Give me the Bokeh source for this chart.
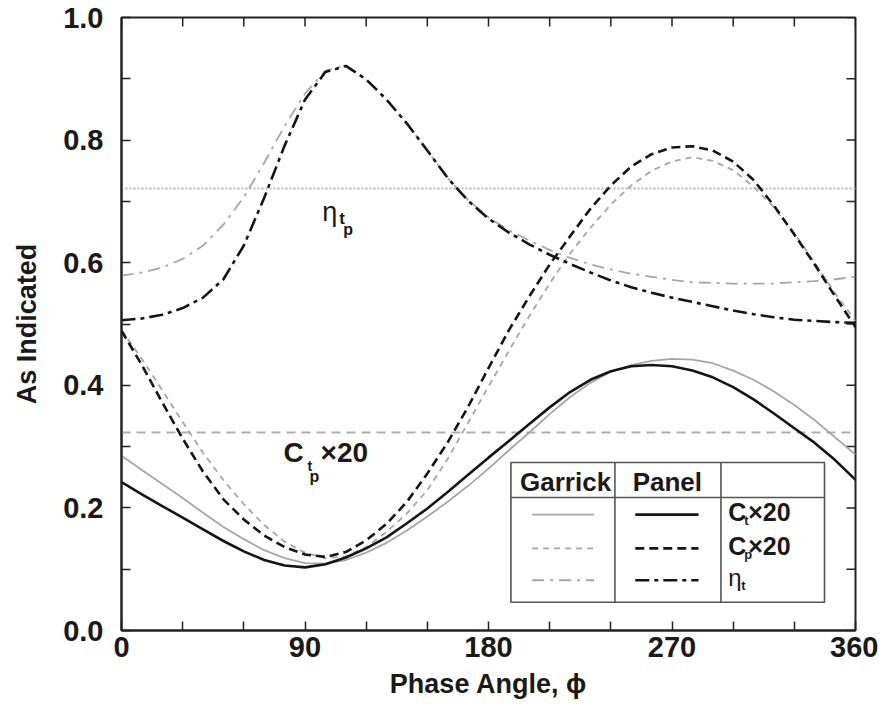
import math
from bokeh.plotting import figure
from bokeh.models import Range1d, FixedTicker, Span
from bokeh.core.properties import value
from bokeh.embed import file_html
from bokeh.resources import INLINE

# ---------------- data ----------------
phase = list(range(0, 361, 10))

ct_panel = [0.242, 0.222, 0.203, 0.184, 0.165, 0.146, 0.129, 0.115, 0.106, 0.103,
            0.108, 0.119, 0.134, 0.152, 0.175, 0.199, 0.226, 0.254, 0.282, 0.309,
            0.337, 0.364, 0.389, 0.409, 0.423, 0.431, 0.433, 0.431, 0.424, 0.413,
            0.397, 0.377, 0.354, 0.330, 0.306, 0.278, 0.246]
ct_garrick = [0.285, 0.262, 0.239, 0.216, 0.192, 0.169, 0.149, 0.131, 0.118, 0.110,
              0.109, 0.115, 0.127, 0.143, 0.163, 0.186, 0.210, 0.236, 0.264, 0.294,
              0.323, 0.353, 0.381, 0.404, 0.422, 0.433, 0.440, 0.443, 0.442, 0.436,
              0.424, 0.409, 0.390, 0.368, 0.343, 0.315, 0.287]
cp_panel = [0.489, 0.433, 0.372, 0.313, 0.259, 0.214, 0.181, 0.155, 0.136, 0.124,
            0.120, 0.128, 0.147, 0.174, 0.210, 0.256, 0.307, 0.365, 0.428, 0.490,
            0.545, 0.597, 0.643, 0.688, 0.726, 0.757, 0.777, 0.788, 0.790, 0.783,
            0.765, 0.735, 0.693, 0.646, 0.597, 0.545, 0.495]
cp_garrick = [0.490, 0.443, 0.392, 0.340, 0.290, 0.245, 0.206, 0.172, 0.145, 0.127,
              0.118, 0.121, 0.136, 0.161, 0.191, 0.229, 0.280, 0.339, 0.398, 0.456,
              0.513, 0.566, 0.615, 0.657, 0.695, 0.726, 0.750, 0.765, 0.772, 0.766,
              0.751, 0.724, 0.690, 0.648, 0.600, 0.550, 0.505]
eta_panel = [0.506, 0.509, 0.515, 0.526, 0.543, 0.573, 0.628, 0.706, 0.791, 0.866,
             0.911, 0.921, 0.899, 0.866, 0.827, 0.783, 0.738, 0.701, 0.672, 0.649,
             0.630, 0.613, 0.598, 0.584, 0.571, 0.560, 0.551, 0.543, 0.536, 0.529,
             0.522, 0.516, 0.511, 0.507, 0.505, 0.503, 0.502]
eta_garrick = [0.579, 0.584, 0.592, 0.606, 0.628, 0.662, 0.707, 0.763, 0.823, 0.876,
               0.913, 0.922, 0.899, 0.866, 0.827, 0.783, 0.738, 0.702, 0.674, 0.653,
               0.636, 0.621, 0.608, 0.597, 0.589, 0.582, 0.577, 0.572, 0.568, 0.567,
               0.566, 0.566, 0.566, 0.568, 0.570, 0.573, 0.577]

ct_p_mean = 0.323    # C_t_p x20 reference line
eta_p_mean = 0.721   # eta_t_p reference line

x_ticks = [0, 90, 180, 270, 360]
x_minor = [30, 60, 120, 150, 210, 240, 300, 330]
y_ticks = [0.0, 0.2, 0.4, 0.6, 0.8, 1.0]
y_minor = [0.1, 0.3, 0.5, 0.7, 0.9]

legend_header = ["Garrick", "Panel"]

# ---------------- style ----------------
FONT = value("Liberation Sans")
GRAY = "#a6a6a6"
BLACK = "#151515"
AXIS = "#222222"
TXT = "#1a1a1a"

p = figure(width=878, height=713, x_range=Range1d(0, 360), y_range=Range1d(0, 1),
           output_backend="svg", toolbar_location=None,
           min_border_left=121, min_border_right=23, min_border_top=17, min_border_bottom=83)
p.xgrid.visible = False
p.ygrid.visible = False
p.outline_line_color = AXIS
p.outline_line_width = 2
p.background_fill_color = "white"
p.border_fill_color = "white"

xt = FixedTicker(ticks=x_ticks, minor_ticks=x_minor)
yt = FixedTicker(ticks=y_ticks, minor_ticks=y_minor)

for ax in (p.xaxis[0], p.yaxis[0]):
    ax.axis_line_color = AXIS
    ax.axis_line_width = 2
    ax.major_tick_line_color = AXIS
    ax.minor_tick_line_color = AXIS
    ax.major_tick_line_width = 1.5
    ax.minor_tick_line_width = 1.5
    ax.major_tick_in = 9
    ax.major_tick_out = 0
    ax.minor_tick_in = 9
    ax.minor_tick_out = 0
    ax.major_label_text_font = "Liberation Sans"
    ax.major_label_text_font_style = "bold"
    ax.major_label_text_font_size = "29px"
    ax.major_label_text_color = TXT
    ax.axis_label_text_font = "Liberation Sans"
    ax.axis_label_text_font_style = "bold"
    ax.axis_label_text_font_size = "27px"
    ax.axis_label_text_color = TXT

xa = p.xaxis[0]
xa.ticker = xt
xa.axis_label = "Phase Angle, \u03d5"
xa.major_label_standoff = 6
xa.axis_label_standoff = 9

ya = p.yaxis[0]
ya.ticker = yt
ya.axis_label = "As Indicated"
ya.major_label_overrides = {v: f"{v:.1f}" for v in y_ticks}
ya.major_label_standoff = 18
ya.axis_label_standoff = 18

# inward ticks on the top and right edges of the frame
top_ticks = x_ticks + x_minor
right_ticks = y_ticks + y_minor
p.ray(x=top_ticks, y=[1.0] * len(top_ticks), length=9, length_units="screen",
      angle=-math.pi / 2, line_color=AXIS, line_width=1.5)
p.ray(x=[360] * len(right_ticks), y=right_ticks, length=9, length_units="screen",
      angle=math.pi, line_color=AXIS, line_width=1.5)

# reference lines
p.add_layout(Span(location=eta_p_mean, dimension="width", line_color="#b5b5b5",
                  line_width=2, line_dash="2 2", level="underlay"))
p.add_layout(Span(location=ct_p_mean, dimension="width", line_color="#b0b0b0",
                  line_width=2, line_dash="9 6", level="underlay"))

# curves
p.line(phase, ct_garrick, line_color=GRAY, line_width=1.8)
p.line(phase, cp_garrick, line_color=GRAY, line_width=1.8, line_dash="6 5")
p.line(phase, eta_garrick, line_color=GRAY, line_width=1.8, line_dash="12 6 3 6")
p.line(phase, ct_panel, line_color=BLACK, line_width=2.6)
p.line(phase, cp_panel, line_color=BLACK, line_width=2.6, line_dash="9 5")
p.line(phase, eta_panel, line_color=BLACK, line_width=2.6, line_dash="14 5 4 5")


def rich(x, y, parts):
    # parts: (text, dx_px, dy_px, size, style)
    for t, dx, dy, fs, st in parts:
        p.text(x=[x], y=[y], text=[t], x_offset=dx, y_offset=dy,
               text_font=FONT, text_font_size=fs, text_font_style=st,
               text_color=TXT, text_align="left", text_baseline="middle")


# in-plot labels
rich(98.5, 0.682, [("\u03b7", 0, 0, "27px", "normal"),
                   ("t", 17, 6, "17px", "bold"),
                   ("p", 21, 17, "16px", "bold")])
rich(79.5, 0.290, [("C", 0, 0, "28px", "bold"),
                   ("t", 24, 13, "14px", "bold"),
                   ("p", 26, 24, "16px", "bold"),
                   ("\u00d720", 37, 0, "28px", "bold")])

# legend table
LX0, LX1, LXD1, LXD2 = 191, 344.8, 242, 294
LY0, LY1, LYH = 0.046, 0.274, 0.217
ROWS = [0.189, 0.134, 0.082]
p.quad(left=[LX0], right=[LX1], bottom=[LY0], top=[LY1], fill_color="white",
       line_color="#555555", line_width=1.6)
p.segment(x0=[LXD1, LXD2, LX0], y0=[LY0, LY0, LYH], x1=[LXD1, LXD2, LX1], y1=[LY1, LY1, LYH],
          line_color="#555555", line_width=1.6)
p.text(x=[217.8, 267.7], y=[0.243, 0.243], text=legend_header, text_font=FONT,
       text_font_size="26px", text_font_style="bold", text_color=TXT,
       text_align="center", text_baseline="middle")
GX0, GX1, PX0, PX1 = 201.4, 231.8, 252, 283
p.segment(x0=[GX0], y0=[ROWS[0]], x1=[GX1], y1=[ROWS[0]], line_color=GRAY, line_width=1.8)
p.segment(x0=[GX0], y0=[ROWS[1]], x1=[GX1], y1=[ROWS[1]], line_color=GRAY, line_width=1.8, line_dash="6 5")
p.segment(x0=[GX0], y0=[ROWS[2]], x1=[GX1], y1=[ROWS[2]], line_color=GRAY, line_width=1.8, line_dash="12 6 3 6")
p.segment(x0=[PX0], y0=[ROWS[0]], x1=[PX1], y1=[ROWS[0]], line_color=BLACK, line_width=2.6)
p.segment(x0=[PX0], y0=[ROWS[1]], x1=[PX1], y1=[ROWS[1]], line_color=BLACK, line_width=2.6, line_dash="9 5")
p.segment(x0=[PX0], y0=[ROWS[2]], x1=[PX1], y1=[ROWS[2]], line_color=BLACK, line_width=2.6, line_dash="14 5 4 5")

LBX = 297.6
rich(LBX, ROWS[0] + 0.004, [("C", 0, 0, "25px", "bold"), ("t", 16, 8, "13px", "bold"),
                            ("\u00d720", 20, 0, "25px", "bold")])
rich(LBX, ROWS[1] + 0.004, [("C", 0, 0, "25px", "bold"), ("p", 16, 9, "13px", "bold"),
                            ("\u00d720", 20, 0, "25px", "bold")])
rich(LBX, ROWS[2] + 0.004, [("\u03b7", 0, 0, "24px", "normal"), ("t", 13, 8, "13px", "bold")])

open("out.html", "w").write(file_html(p, INLINE))
